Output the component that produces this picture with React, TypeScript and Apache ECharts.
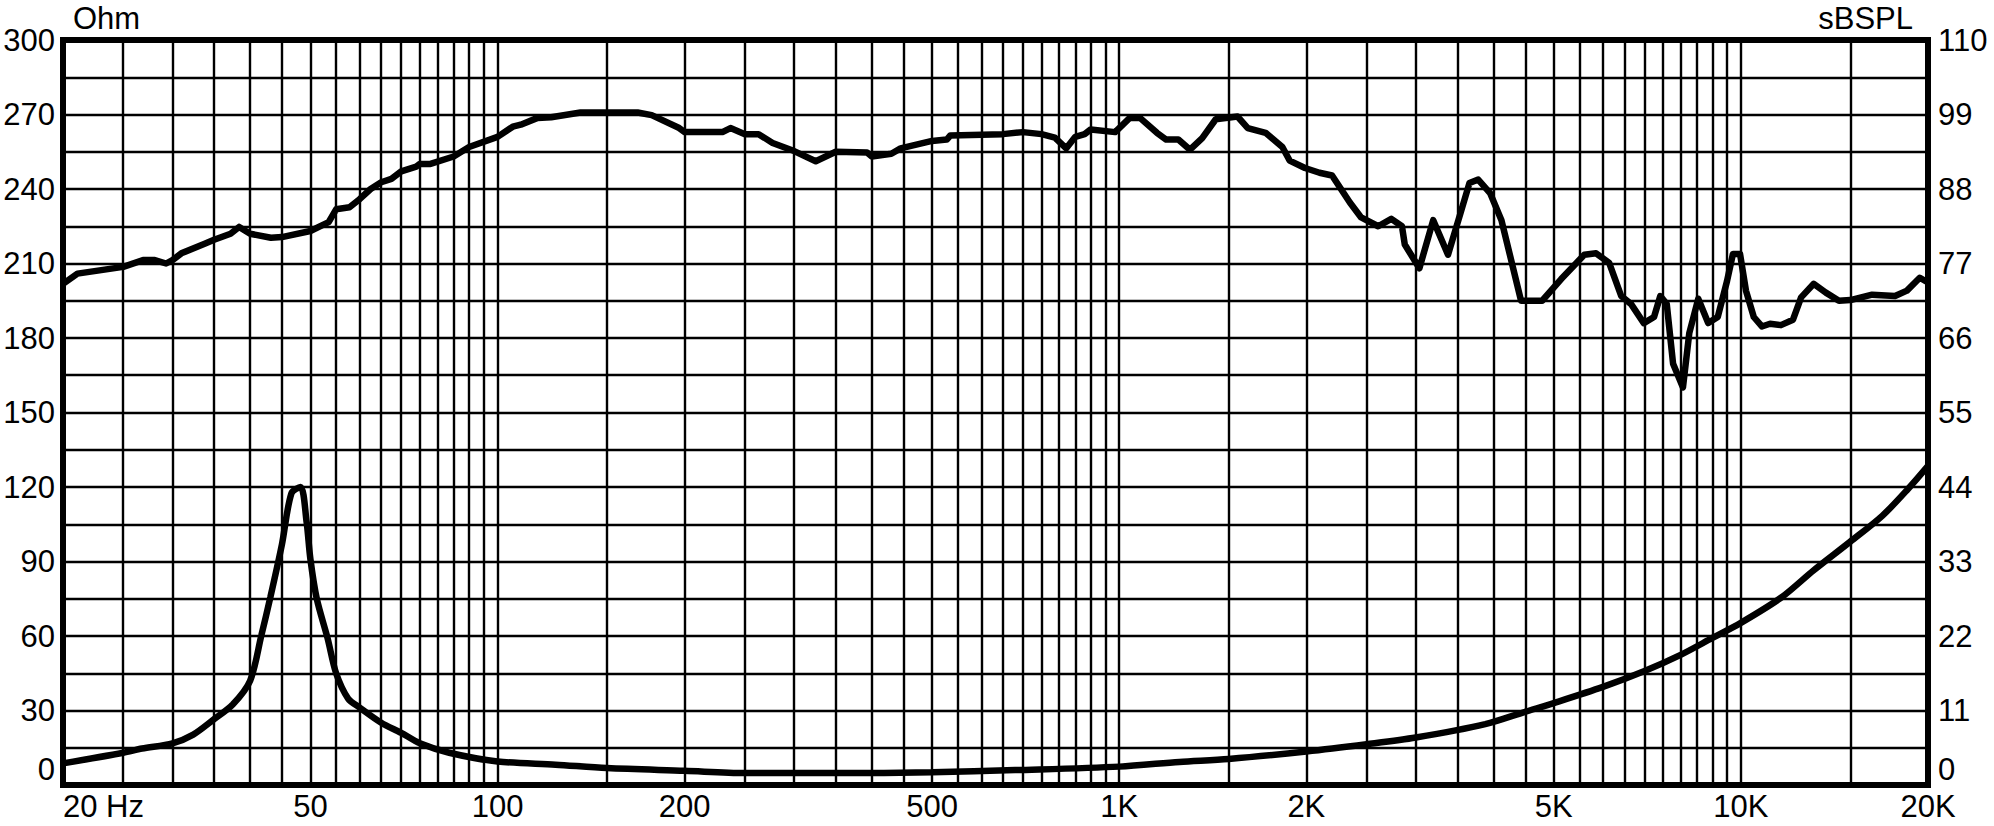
import { useEffect, useRef } from 'react'
import * as echarts from 'echarts'

// Impedance curve (left axis, Ohm)
const impFreq = [20, 25, 26.8, 30, 32.4, 35, 37.5, 40, 41.7, 43.1, 45, 46.6, 48.2, 49.3, 50, 51.2, 53.3, 55, 57.5, 60, 65, 70, 75, 83.6, 100, 124, 150, 200, 250, 350, 500, 680, 1000, 1250, 1500, 2000, 2500, 3000, 3880, 4500, 5000, 6000, 7000, 8000, 9000, 10000, 11600, 13100, 15000, 16900, 18600, 20000]
const impOhm = [8.7, 13, 14.7, 16.8, 20.3, 26.5, 32.4, 42, 60.3, 75.5, 96.9, 117.4, 120, 106, 91, 75, 59, 45, 34.8, 31.2, 25.1, 21, 16.8, 13, 9.5, 8.2, 6.8, 5.7, 4.8, 4.8, 5.1, 6, 7.4, 9.3, 10.5, 13.5, 16.4, 19.1, 24.5, 29.5, 33, 39.5, 45.9, 52.4, 59.2, 65.3, 75.4, 86.5, 98, 108.5, 119.4, 128.5]

// SPL curve (right axis, dB)
const splFreq = [20, 21.1, 25, 26.9, 28.1, 29.3, 30, 31, 33.8, 35, 37.2, 38.4, 40, 43.2, 45, 50, 53.5, 55, 57.8, 60, 62.5, 65, 67.5, 70, 74, 75, 78, 85, 90, 100, 105.8, 109, 116, 122, 136, 150, 168, 177, 196, 200, 230, 237, 250, 263, 277, 300, 325, 350, 393, 400, 430, 445, 500, 528, 535, 650, 700, 750, 788, 822, 850, 880, 900, 985, 1040, 1080, 1150, 1190, 1245, 1300, 1360, 1430, 1550, 1610, 1720, 1830, 1880, 1990, 2100, 2200, 2350, 2450, 2610, 2740, 2850, 2880, 3040, 3200, 3380, 3550, 3660, 3780, 3950, 4120, 4430, 4790, 5140, 5600, 5850, 6140, 6420, 6660, 6980, 7250, 7420, 7600, 7780, 8070, 8260, 8540, 8860, 9180, 9500, 9710, 9970, 10190, 10490, 10810, 11140, 11600, 12130, 12500, 13100, 13700, 14380, 15000, 16260, 17700, 18500, 19400, 20000]
const splDb = [74.0, 75.5, 76.5, 77.5, 77.5, 77.0, 77.5, 78.5, 79.9, 80.5, 81.4, 82.4, 81.4, 80.8, 80.9, 81.8, 83.1, 85.0, 85.3, 86.5, 88.0, 89.0, 89.5, 90.6, 91.3, 91.7, 91.7, 92.8, 94.2, 95.7, 97.2, 97.5, 98.5, 98.6, 99.3, 99.3, 99.3, 98.9, 97.0, 96.4, 96.4, 97.0, 96.1, 96.1, 94.8, 93.6, 92.1, 93.5, 93.4, 92.8, 93.2, 94.0, 95.1, 95.3, 95.9, 96.1, 96.4, 96.1, 95.6, 94.0, 95.7, 96.1, 96.8, 96.4, 98.5, 98.5, 96.3, 95.3, 95.3, 93.8, 95.5, 98.3, 98.7, 97.0, 96.3, 94.2, 92.2, 91.1, 90.4, 90.0, 86.0, 83.8, 82.5, 83.6, 82.5, 79.8, 76.3, 83.4, 78.3, 84.8, 88.9, 89.4, 87.4, 83.4, 71.5, 71.5, 74.7, 78.3, 78.5, 77.1, 72.2, 71.0, 68.2, 69.1, 72.2, 71.0, 62.2, 58.7, 66.7, 71.8, 68.2, 69.1, 74.4, 78.4, 78.4, 73.0, 69.1, 67.7, 68.1, 67.9, 68.7, 72.0, 74.0, 72.7, 71.5, 71.6, 72.4, 72.2, 73.0, 74.9, 74.2]

// x tick labels
const labelFreqs = [20, 50, 100, 200, 500, 1000, 2000, 5000, 10000, 20000]
const labelTexts = ['20 Hz', '50', '100', '200', '500', '1K', '2K', '5K', '10K', '20K']

// vertical grid: [from, to, step] per decade
const gridSteps = [[20, 100, 5], [100, 1000, 50], [1000, 10000, 500], [10000, 20000, 5000]]

const FONT = "'Liberation Sans', Arial, sans-serif"

const gridFreqs: number[] = []
gridSteps.forEach(([from, to, step]) => {
  for (let f = from; f < to; f += step) gridFreqs.push(f)
})
gridFreqs.push(20000)

const lg = (f: number) => Math.log10(f)

const App = () => {
  const chartRef = useRef<HTMLDivElement>(null)

  useEffect(() => {
    document.body.style.margin = '0'
    if (!chartRef.current) return
    const chart = echarts.init(chartRef.current, null, { renderer: 'svg' })

    const labelStyle = { color: '#000', fontSize: 31, fontFamily: FONT }
    const gridLine = { show: true, lineStyle: { color: '#000', width: 2.4 } }

    const option = {
      animation: false,
      backgroundColor: '#fff',
      grid: {
        left: 63,
        right: 66,
        top: 40,
        bottom: 41,
        show: true,
        borderColor: '#000',
        borderWidth: 6,
        containLabel: false
      },
      xAxis: {
        type: 'value',
        min: lg(20),
        max: lg(20000),
        axisLine: { show: false },
        axisTick: { show: false, customValues: gridFreqs.map(lg) },
        splitLine: gridLine,
        axisLabel: {
          ...labelStyle,
          margin: 6,
          customValues: labelFreqs.map(lg),
          alignMinLabel: 'left',
          formatter: (v: number) => {
            const f = Math.round(Math.pow(10, v))
            const i = labelFreqs.indexOf(f)
            return i >= 0 ? labelTexts[i] : ''
          }
        }
      },
      yAxis: [
        {
          type: 'value',
          min: 0,
          max: 300,
          interval: 15,
          name: 'Ohm',
          nameLocation: 'end',
          nameGap: 6,
          nameTextStyle: { ...labelStyle, align: 'left', padding: [0, 0, 0, 10] },
          axisLine: { show: false },
          axisTick: { show: false },
          splitLine: gridLine,
          axisLabel: {
            ...labelStyle,
            margin: 8,
            verticalAlignMinLabel: 'bottom',
            formatter: (v: number) => (v % 30 === 0 ? String(v) : '')
          }
        },
        {
          type: 'value',
          min: 0,
          max: 110,
          interval: 11,
          position: 'right',
          name: 'sBSPL',
          nameLocation: 'end',
          nameGap: 6,
          nameTextStyle: { ...labelStyle, align: 'right', padding: [0, 15, 0, 0] },
          axisLine: { show: false },
          axisTick: { show: false },
          splitLine: { show: false },
          axisLabel: {
            ...labelStyle,
            margin: 10,
            verticalAlignMinLabel: 'bottom'
          }
        }
      ],
      series: [
        {
          name: 'SPL',
          type: 'line',
          yAxisIndex: 1,
          showSymbol: false,
          lineStyle: { color: '#000', width: 6.5, join: 'round' },
          data: splFreq.map((f, i) => [lg(f), splDb[i]])
        },
        {
          name: 'Impedance',
          type: 'line',
          yAxisIndex: 0,
          showSymbol: false,
          smooth: 0.3,
          lineStyle: { color: '#000', width: 6.5 },
          data: impFreq.map((f, i) => [lg(f), impOhm[i]])
        }
      ]
    }

    chart.setOption(option as Record<string, unknown>)

    const handleResize = () => chart.resize()
    window.addEventListener('resize', handleResize)

    return () => {
      window.removeEventListener('resize', handleResize)
      chart.dispose()
    }
  }, [])

  return <div ref={chartRef} style={{ width: '1994px', height: '826px' }} />
}

export default App
